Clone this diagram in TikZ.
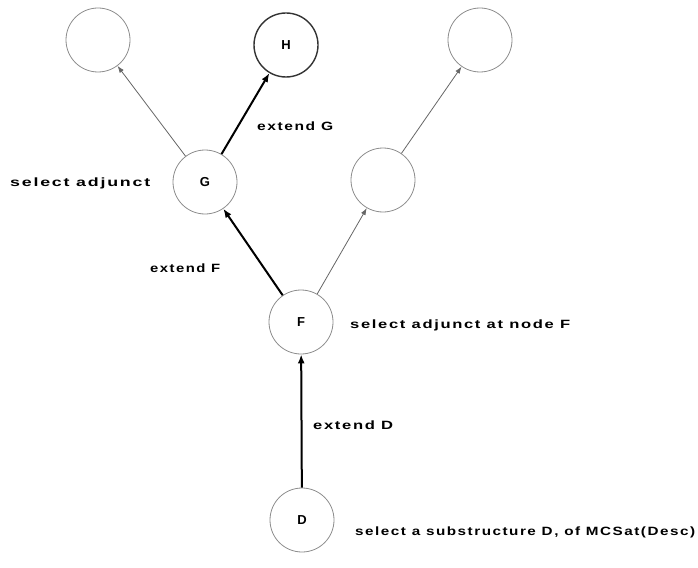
\documentclass[tikz,border=0pt]{standalone}
\usepackage{graphicx}
\usepackage{fontspec}
\setmainfont{Liberation Sans}[LetterSpace=10]
\usetikzlibrary{arrows.meta,shapes.geometric}
\newcommand{\wlab}[2]{\resizebox{#1pt}{\height}{#2}}
\begin{document}
\begin{tikzpicture}[x=1pt,y=-1pt,
  st/.style={draw=black!45, line width=0.8pt, ellipse, minimum width=64pt, minimum height=64pt, inner sep=0pt, font=\bfseries\fontsize{13}{14}\selectfont},
  sth/.style={st, draw=black!80, line width=1.4pt},
  thin/.style={draw=black!60, line width=0.8pt, -{Latex[length=7pt,width=5pt]}},
  thick/.style={draw=black, line width=2pt, -{Latex[length=9pt,width=7pt]}},
  lab/.style={font=\bfseries\fontsize{12}{13}\selectfont, inner sep=0pt}]
\useasboundingbox (0,0) rectangle (698,567);
\node[st] (tl) at (98,40) {};
\node[sth] (H) at (286,45) {H};
\node[st] (tr) at (480,40) {};
\node[st] (G) at (205,182) {G};
\node[st] (mr) at (383,180) {};
\node[st] (F) at (301,322) {F};
\node[st] (D) at (302,520) {D};
\draw[thin] (G) -- (tl);
\draw[thick] (G) -- (H);
\draw[thick] (F) -- (G);
\draw[thin] (F) -- (mr);
\draw[thin] (mr) -- (tr);
\draw[thick] (D) -- (F);
\node[lab, anchor=west] (l1) at (10,183) {\wlab{140}{select adjunct}};
\node[lab, anchor=west] (l2) at (257,126) {\wlab{76}{extend G}};
\node[lab, anchor=west] (l3) at (150,268) {\wlab{70}{extend F}};
\node[lab, anchor=west] (l4) at (350,325) {\wlab{220}{select adjunct at node F}};
\node[lab, anchor=west] (l5) at (313,425) {\wlab{80}{extend D}};
\node[lab, anchor=west] (l6) at (355,532) {\wlab{340}{select a substructure D, of MCSat(Desc)}};
\end{tikzpicture}
\end{document}
